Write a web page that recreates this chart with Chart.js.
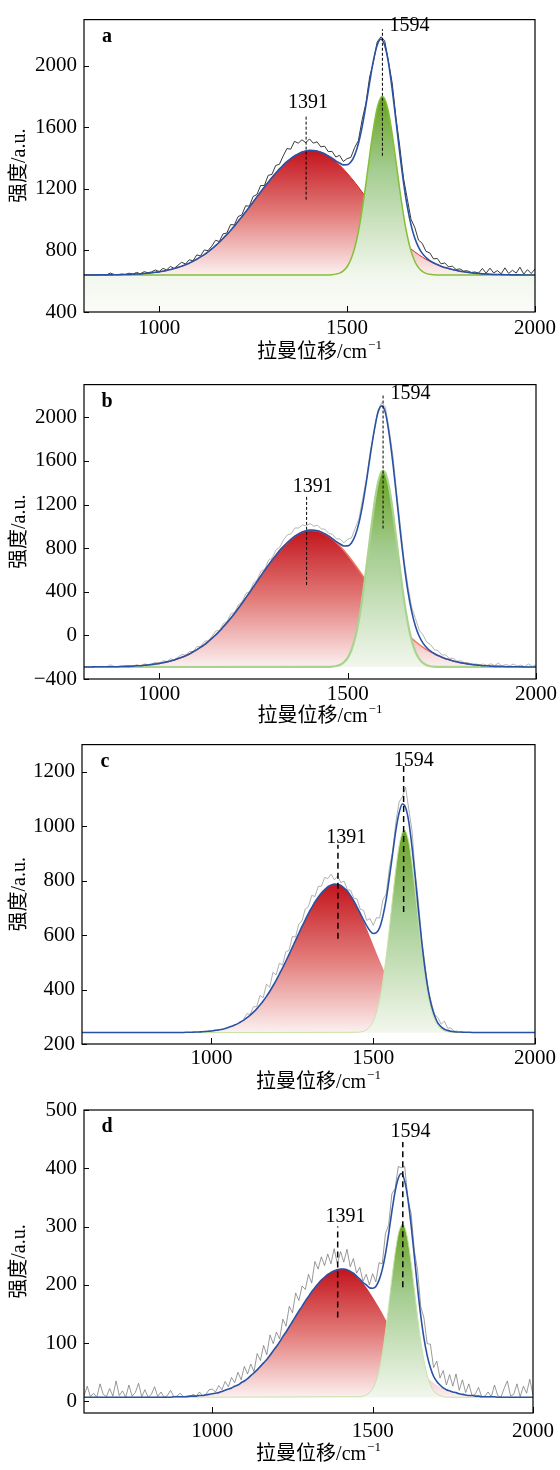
<!DOCTYPE html>
<html>
<head>
<meta charset="utf-8">
<script src="https://cdn.jsdelivr.net/npm/chart.js@4.4.1/dist/chart.umd.min.js"></script>
<style>
  body { margin: 0; background: #fff; width: 560px; height: 1470px; position: relative; overflow: hidden; }
  canvas { position: absolute; left: 0; }
</style>
</head>
<body>
<canvas id="ca" width="560" height="365" style="top:0px"></canvas>
<canvas id="cb" width="560" height="360" style="top:365px"></canvas>
<canvas id="cc" width="560" height="365" style="top:725px"></canvas>
<canvas id="cd" width="560" height="380" style="top:1090px"></canvas>
<script>
// sampling grid helper (x positions only)
const range = (a, b, s) => { const r = []; for (let v = a; v <= b; v += s) r.push(v); return r; };

// peak positions marked in every panel
const markerX = [1391, 1594];
const xTicks = [1000, 1500, 2000];

// ---- panel a ----
const aYTicks = [400, 800, 1200, 1600, 2000];
const aFitX = range(800, 2000, 10);
const aFit = [
  640,640,640,641,641,641,641,641,642,642,
  643,644,644,645,647,648,650,652,655,658,
  661,665,670,676,682,690,698,707,717,730,
  743,758,773,791,810,831,853,878,903,930,
  958,988,1019,1050,1082,1115,1148,1180,1212,1243,
  1274,1302,1330,1354,1377,1396,1414,1427,1439,1445,
  1450,1449,1446,1438,1428,1414,1399,1382,1368,1356,
  1357,1374,1418,1493,1603,1741,1892,2033,2134,2173,
  2134,2021,1848,1644,1435,1246,1088,968,881,822,
  781,754,734,720,708,698,689,683,676,671,
  665,662,658,655,652,650,648,647,645,644,
  644,643,642,642,641,641,641,640,640,640,
  640];
const aRaw = [
  640,642,640,642,641,644,641,653,644,642,
  646,644,652,646,657,648,662,655,661,673,
  663,683,674,696,683,704,723,712,739,733,
  771,764,803,799,828,866,858,908,913,968,
  966,1020,1031,1090,1088,1151,1163,1222,1222,1288,
  1294,1352,1360,1414,1462,1458,1509,1497,1519,1500,
  1525,1497,1506,1473,1478,1442,1444,1407,1418,1378,
  1397,1404,1468,1513,1648,1756,1927,2023,2154,2188,
  2164,2031,1888,1664,1480,1271,1138,1003,951,867,
  846,794,784,745,748,713,719,693,698,676,
  680,666,668,657,660,653,683,652,685,654,
  669,648,687,650,671,653,691,646,675,650,
  680];
const aDX = range(800, 2000, 20);
const aD = [640,640,641,641,642,643,644,647,650,655,661,670,682,698,717,743,773,810,853,903,
  958,1019,1082,1148,1212,1274,1330,1377,1414,1439,1450,1446,1428,1397,1355,1303,1244,1180,1115,1050,
  988,930,877,831,791,757,729,707,689,676,665,658,652,648,645,644,642,641,641,640,640];
const aGX = [800,1450,1460,1470,1480,1490,1500,1510,1520,1530,1540,1550,1560,1570,1580,1590,1594,
  1600,1610,1620,1630,1640,1650,1660,1670,1680,1690,1700,1710,1720,1730,1740,2000];
const aG = [640,641,642,646,653,667,694,741,814,921,1063,1233,1417,1590,1724,1794,1800,
  1786,1702,1558,1381,1198,1032,897,797,730,688,664,651,645,642,641,640];
const aMarkLow = [1130, 1415];
const aMarkHigh = [1673, 2238];

// ---- panel b ----
const bYTicks = [-400, 0, 400, 800, 1200, 1600, 2000];
const bFitX = range(800, 2000, 10);
const bFit = [
  -290,-290,-290,-288,-288,-288,-288,-288,-287,-287,
  -285,-284,-284,-282,-279,-278,-274,-271,-267,-262,
  -257,-251,-243,-234,-225,-212,-200,-186,-171,-150,
  -130,-107,-84,-56,-26,6,40,79,118,160,
  203,249,297,346,395,446,497,547,597,645,
  693,736,780,817,852,882,910,930,948,958,
  966,964,959,947,931,910,886,860,838,820,
  821,848,916,1032,1203,1417,1651,1869,2040,2105,
  2045,1851,1582,1266,942,649,404,218,84,-8,
  -71,-113,-144,-166,-185,-200,-214,-223,-234,-242,
  -251,-256,-262,-267,-271,-274,-278,-279,-282,-284,
  -284,-285,-287,-287,-288,-288,-288,-290,-290,-290,
  -290];
const bRaw = [
  -290,-287,-290,-286,-288,-284,-288,-270,-285,-287,
  -282,-284,-276,-281,-269,-278,-262,-268,-261,-247,
  -255,-233,-239,-214,-224,-198,-175,-181,-149,-147,
  -102,-101,-54,-48,-8,41,45,109,128,198,
  211,281,309,386,401,482,512,589,607,690,
  713,786,810,877,922,932,985,985,1013,1003,
  1026,1002,1009,977,973,935,926,885,883,850,
  881,893,981,1072,1258,1437,1691,1859,2060,2135,
  2095,1891,1652,1311,1002,684,454,258,154,47,
  4,-63,-84,-131,-140,-180,-179,-211,-209,-236,
  -233,-251,-250,-264,-261,-270,-263,-276,-260,-278,
  -254,-280,-267,-279,-263,-282,-273,-286,-262,-284,
  -270];
const bDX = range(800, 2000, 20);
const bD = [-290,-289,-289,-288,-287,-286,-283,-280,-274,-267,-257,-243,-225,-201,-171,-130,-84,-26,40,118,
  203,297,395,497,597,693,780,852,910,948,965,959,931,883,818,738,646,547,446,346,
  249,160,77,6,-56,-109,-152,-186,-214,-234,-251,-262,-271,-278,-282,-285,-287,-288,-289,-289,-290];
const bGX = [800,1450,1460,1470,1480,1490,1500,1510,1520,1530,1540,1550,1560,1570,1580,1590,1594,
  1600,1610,1620,1630,1640,1650,1660,1670,1680,1690,1700,1710,1720,1730,1740,2000];
const bG = [-290,-289,-286,-281,-270,-247,-206,-134,-20,146,366,630,916,1184,1392,1501,1510,
  1489,1358,1135,859,575,318,109,-46,-151,-216,-253,-273,-283,-287,-289,-290];
const bMarkLow = [463, 980];
const bMarkHigh = [1277, 2216];

// ---- panel c ----
const cYTicks = [200, 400, 600, 800, 1000, 1200];
const cFitX = range(600, 2000, 10);
const cFit = [
  242,242,242,242,242,242,242,242,242,242,
  242,242,242,242,242,242,242,242,242,242,
  242,242,242,242,242,242,242,242,242,242,
  242,
  242,243,243,243,244,244,245,246,247,248,
  250,251,253,256,260,264,269,274,281,288,
  297,306,317,329,343,358,375,393,413,434,
  457,480,504,529,555,581,606,632,656,680,
  701,722,739,755,767,778,784,788,787,783,
  773,762,745,726,703,680,656,634,616,606,
  609,628,670,731,812,899,985,1049,1082,1069,
  1016,923,811,689,575,476,398,341,303,277,
  263,254,250,247,245,244,244,243,243,243,
  242,242,242,242,242,242,242,242,242,242,
  242,242,242,242,242,242,242,242,242,242];
const cRawX = range(1100, 1760, 10);
const cRaw = [
  293,312,309,337,337,378,370,420,408,463,
  454,497,490,539,544,595,593,641,652,696,
  705,746,742,779,780,812,808,824,803,817,
  793,798,767,765,736,733,695,691,654,661,
  636,664,663,730,751,847,909,1015,1089,1107,
  1144,1061,983,826,719,580,491,398,351,308,
  297,273,284,258,259,247,248];
const cDX = range(600, 2000, 20);
const cD = [242,242,242,242,242,242,242,242,242,242,242,242,242,242,242,242,
  243,243,244,246,248,251,256,264,274,288,306,329,358,393,434,480,529,581,632,680,
  722,755,778,788,783,762,726,678,623,564,506,452,403,362,329,302,283,269,259,252,
  248,246,244,243,243,242,242,242,242,242,242,242,242,242,242];
const cGX = [600,1450,1460,1470,1480,1490,1500,1510,1520,1530,1540,1550,1560,1570,1580,1590,1596,
  1600,1610,1620,1630,1640,1650,1660,1670,1680,1690,1700,1710,1720,1730,1740,1750,2000];
const cG = [242,243,244,247,253,264,284,316,364,433,521,626,738,844,929,978,986,
  982,942,863,760,648,541,449,376,324,289,267,255,248,245,243,242,242];
const cMarkLow = [587, 685];
const cMarkHigh = [932, 1221];

// ---- panel d ----
const dYTicks = [0, 100, 200, 300, 400, 500];
const dFitX = range(600, 2000, 10);
const dFit = [
  7,7,7,7,7,7,7,7,7,7,
  7,7,7,7,7,7,7,7,7,7,
  7,7,7,7,7,7,7,7,
  8,8,8,8,8,9,9,9,10,10,
  11,12,13,14,15,17,19,21,23,26,
  28,32,35,39,44,49,54,60,66,72,
  79,87,94,102,111,119,128,137,146,155,
  163,172,180,188,195,202,208,213,218,221,
  224,226,227,227,226,223,220,215,210,204,
  200,195,194,197,208,226,253,288,326,360,
  383,391,378,347,302,249,195,147,108,79,
  58,43,34,28,23,20,18,16,15,13,
  12,11,10,10,9,9,8,8,8,8,
  8,7,
  7,7,7,7,7,7,7,7,7,7,7];
const dRaw = [
  9,26,8,14,7,30,12,8,22,9,
  35,10,18,7,28,9,15,31,8,20,
  7,12,25,8,16,7,10,19,8,9,
  14,8,9,8,12,9,16,10,12,20,
  21,16,27,20,34,25,41,32,50,37,
  60,47,64,51,82,70,96,80,114,99,
  119,107,141,129,163,152,186,173,198,192,
  218,203,240,227,248,233,253,236,262,236,
  257,239,261,231,245,220,230,206,218,200,
  219,205,238,236,288,303,356,365,403,401,
  403,347,322,259,225,162,143,99,98,58,
  69,40,53,28,46,26,47,19,37,15,
  30,10,12,24,8,9,16,8,28,10,
  7,22,35,9,12,30,8,26,14,38,
  11];
const dDX = range(600, 2000, 20);
const dD = [7,7,7,7,7,7,7,7,7,7,7,
  7,7,7,8,8,8,9,10,11,13,15,19,23,28,35,44,54,66,79,94,
  111,128,146,163,180,195,208,218,224,227,226,220,209,196,179,161,141,122,103,86,
  71,57,45,36,28,22,18,15,12,10,9,8,8,8,7,7,7,7,7,7];
const dGX = [600,1460,1470,1480,1490,1500,1510,1520,1530,1540,1550,1560,1570,1580,1590,1593,
  1600,1610,1620,1630,1640,1650,1660,1670,1680,1690,1700,1710,1720,1730,2000];
const dG = [7,8,9,11,15,22,34,54,82,119,164,211,254,287,303,304,
  299,276,238,192,145,103,70,45,29,18,13,10,8,7,7];
const dMarkLow = [144, 196];
const dMarkHigh = [300, 445];

// ---- styling / layout ----
const SERIF = '"Liberation Serif", "Noto Sans CJK SC", serif';
const redStops = [[0, '#c3141d'], [0.5, '#e27b79'], [1, '#fcf0f0']];
const greenStops = [[0, '#67a11f'], [0.4, '#a3cc8f'], [1, '#f2f7ed']];

const panels = [
  { id: 'ca', letter: 'a', h: 365, area: { top: 12, bottom: 312, left: 84, right: 537 },
    xMin: 800, xMax: 2000, yMin: 400, yMax: 2300, yTicks: aYTicks,
    fitX: aFitX, fit: aFit, rawX: aFitX, raw: aRaw, dX: aDX, d: aD, gX: aGX, g: aG,
    markLow: aMarkLow, markHigh: aMarkHigh, fillTo: 'start',
    labelPos: [[1396, 1757], [1666, 2262]], tickPad: 4, titleOff: 41,
    rawColor: '#3a3a3a', rawW: 1, redLine: '#d92b2b', redW: 1,
    greenLine: '#85bf37', greenW: 1.5, dash: [3, 2], dashW: 1 },
  { id: 'cb', letter: 'b', h: 360, area: { top: 12, bottom: 314, left: 84, right: 538 },
    xMin: 800, xMax: 2000, yMin: -400, yMax: 2300, yTicks: bYTicks,
    fitX: bFitX, fit: bFit, rawX: bFitX, raw: bRaw, dX: bDX, d: bD, gX: bGX, g: bG,
    markLow: bMarkLow, markHigh: bMarkHigh, fillTo: { value: -290 },
    labelPos: [[1407, 1360], [1667, 2220]], tickPad: 3, titleOff: 38,
    rawColor: '#a3a3a3', rawW: 0.8, redLine: '#ec7a66', redW: 1.5,
    greenLine: '#a9d38e', greenW: 2.2, dash: [3, 2], dashW: 1 },
  { id: 'cc', letter: 'c', h: 365, area: { top: 18, bottom: 319, left: 82, right: 535 },
    xMin: 600, xMax: 2000, yMin: 200, yMax: 1300, yTicks: cYTicks,
    fitX: cFitX, fit: cFit, rawX: cRawX, raw: cRaw, dX: cDX, d: cD, gX: cGX, g: cG,
    markLow: cMarkLow, markHigh: cMarkHigh, fillTo: { value: 242 },
    labelPos: [[1417, 957], [1625, 1242]], tickPad: 2, titleOff: 39,
    rawColor: '#9c9c9c', rawW: 0.8, redLine: 'rgba(0,0,0,0)', redW: 0,
    greenLine: '#c9e2a6', greenW: 1, dash: [6, 4], dashW: 1.5 },
  { id: 'cd', letter: 'd', h: 380, area: { top: 20, bottom: 323, left: 84, right: 538 },
    xMin: 600, xMax: 2000, yMin: -20, yMax: 500, yTicks: dYTicks,
    fitX: dFitX, fit: dFit, rawX: dFitX, raw: dRaw, dX: dDX, d: dD, gX: dGX, g: dG,
    markLow: dMarkLow, markHigh: dMarkHigh, fillTo: { value: 7 },
    labelPos: [[1415, 317], [1618, 462]], tickPad: 6, titleOff: 42,
    rawColor: '#6e6e6e', rawW: 0.7, redLine: 'rgba(0,0,0,0)', redW: 0,
    greenLine: '#c9e2a6', greenW: 1, dash: [6, 4], dashW: 1.5 }
];

const pts = (xs, ys) => xs.map((x, i) => ({ x: x, y: ys[i] }));
const fmt = v => String(v).replace('-', '\u2212');

// vertical gradient from the peak down to the baseline; when the fill runs to the
// axis bottom the last stop is stretched down to a near-white tint
function vGrad(chart, series, stops, toBottom) {
  const { ctx, chartArea, scales } = chart;
  if (!chartArea) return null;
  const y0 = scales.y.getPixelForValue(Math.max(...series));
  const yb = scales.y.getPixelForValue(Math.min(...series));
  const y1 = toBottom ? chartArea.bottom : yb;
  const f = toBottom ? (yb - y0) / (y1 - y0) : 1;
  const g = ctx.createLinearGradient(0, y0, 0, y1);
  stops.forEach(s => g.addColorStop(s[0] * f, s[1]));
  if (toBottom) g.addColorStop(1, '#fbfcf9');
  return g;
}

// frame, inward ticks, panel letter, peak labels, x title
const decor = {
  id: 'decor',
  afterDraw(chart, args, o) {
    const { ctx, chartArea: ca, scales: { x, y } } = chart;
    ctx.save();
    ctx.strokeStyle = '#000';
    ctx.lineWidth = 1.2;
    ctx.strokeRect(ca.left, ca.top, ca.right - ca.left, ca.bottom - ca.top);
    ctx.lineWidth = 1;
    ctx.beginPath();
    x.ticks.forEach(t => {
      const px = Math.round(x.getPixelForValue(t.value)) + 0.5;
      ctx.moveTo(px, ca.bottom); ctx.lineTo(px, ca.bottom - 6);
    });
    y.ticks.forEach(t => {
      const py = Math.round(y.getPixelForValue(t.value)) + 0.5;
      ctx.moveTo(ca.left, py); ctx.lineTo(ca.left + 5, py);
    });
    ctx.stroke();

    ctx.fillStyle = '#000';
    ctx.font = 'bold 20px ' + SERIF;
    ctx.textAlign = 'center';
    ctx.textBaseline = 'alphabetic';
    ctx.fillText(o.letter, ca.left + 23, ca.top + 22);

    ctx.font = '20px ' + SERIF;
    ctx.textBaseline = 'middle';
    o.labelPos.forEach((p, i) => {
      ctx.fillText(String(markerX[i]), x.getPixelForValue(p[0]), y.getPixelForValue(p[1]));
    });

    const main = '拉曼位移/cm', sup = '\u22121';
    const w1 = ctx.measureText(main).width;
    ctx.font = '13px ' + SERIF;
    const w2 = ctx.measureText(sup).width;
    const cx = (ca.left + ca.right) / 2 + 10;
    const ty = ca.bottom + o.titleOff;
    const x0 = cx - (w1 + w2 + 1) / 2;
    ctx.textAlign = 'left';
    ctx.font = '20px ' + SERIF;
    ctx.fillText(main, x0, ty);
    ctx.font = '13px ' + SERIF;
    ctx.fillText(sup, x0 + w1 + 1, ty - 7);
    ctx.restore();
  }
};

panels.forEach(p => {
  const toBottom = p.fillTo === 'start';
  const datasets = [];
  markerX.forEach((mx, i) => {
    datasets.push({ data: [{ x: mx, y: p.markLow[i] }, { x: mx, y: p.markHigh[i] }],
      borderColor: '#000', borderWidth: p.dashW, borderDash: p.dash, pointRadius: 0, fill: false });
  });
  datasets.push({ data: pts(p.fitX, p.fit), borderColor: '#2a52a3', borderWidth: 1.6,
    cubicInterpolationMode: 'monotone', pointRadius: 0, fill: false });
  datasets.push({ data: pts(p.rawX, p.raw), borderColor: p.rawColor, borderWidth: p.rawW,
    pointRadius: 0, fill: false, tension: 0 });
  datasets.push({ data: pts(p.gX, p.g), borderColor: p.greenLine, borderWidth: p.greenW,
    cubicInterpolationMode: 'monotone', pointRadius: 0, fill: p.fillTo,
    backgroundColor: c => vGrad(c.chart, p.g, greenStops, toBottom) });
  datasets.push({ data: pts(p.dX, p.d), borderColor: p.redLine, borderWidth: p.redW,
    cubicInterpolationMode: 'monotone', pointRadius: 0, fill: p.fillTo,
    backgroundColor: c => vGrad(c.chart, p.d, redStops, false) });

  new Chart(document.getElementById(p.id), {
    type: 'line',
    data: { datasets: datasets },
    plugins: [decor],
    options: {
      responsive: false,
      animation: false,
      events: [],
      layout: { padding: { top: p.area.top, right: 560 - p.area.right, left: 0, bottom: 0 } },
      plugins: {
        legend: { display: false },
        tooltip: { enabled: false },
        decor: { letter: p.letter, labelPos: p.labelPos, titleOff: p.titleOff }
      },
      scales: {
        x: {
          type: 'linear', min: p.xMin, max: p.xMax,
          afterBuildTicks: s => { s.ticks = xTicks.map(v => ({ value: v })); },
          afterFit: s => { s.height = p.h - p.area.bottom; },
          grid: { display: false, drawTicks: false },
          border: { display: false },
          ticks: { color: '#000', font: { family: SERIF, size: 21 }, padding: p.tickPad,
            maxRotation: 0, autoSkip: false, callback: fmt }
        },
        y: {
          type: 'linear', min: p.yMin, max: p.yMax,
          afterBuildTicks: s => { s.ticks = p.yTicks.map(v => ({ value: v })); },
          afterFit: s => { s.width = p.area.left; },
          grid: { display: false, drawTicks: false },
          border: { display: false },
          ticks: { color: '#000', font: { family: SERIF, size: 21 }, padding: 7,
            autoSkip: false, callback: fmt },
          title: { display: true, text: '强度/a.u.', color: '#000',
            font: { family: SERIF, size: 20 }, padding: { top: 8, bottom: 0 } }
        }
      }
    }
  });
});
</script>
</body>
</html>
